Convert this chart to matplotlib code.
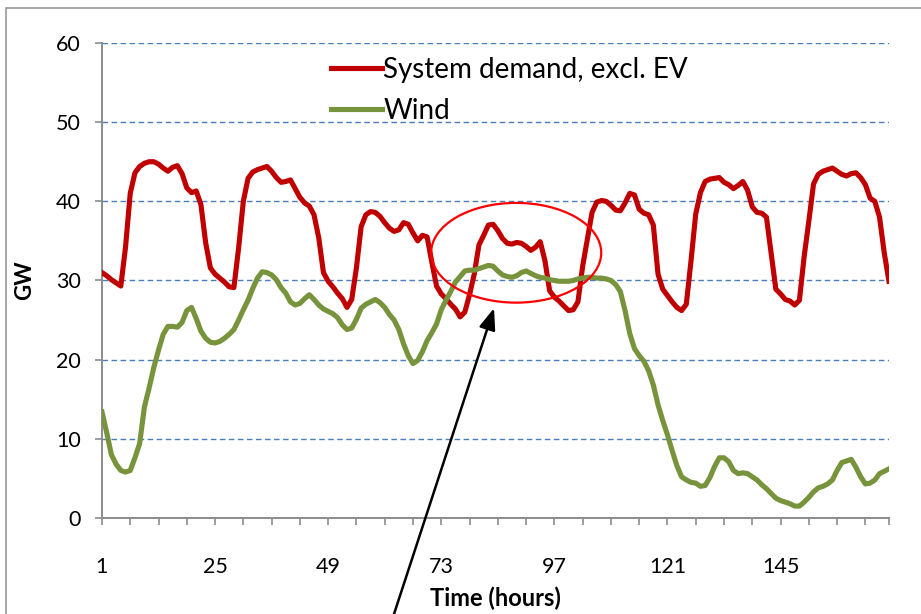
import numpy as np
import matplotlib
matplotlib.use("Agg")
import matplotlib.pyplot as plt
from matplotlib.patches import Ellipse, Rectangle

plt.rcParams["font.family"] = ["Lato", "DejaVu Sans"]

hours = np.arange(1, 169)

demand = [
    31.0, 30.6, 30.1, 29.7, 29.3, 34.2, 41.0, 43.6, 44.4, 44.8, 45.0, 45.0,
    44.7, 44.2, 43.8, 44.3, 44.5, 43.5, 41.7, 41.1, 41.3, 39.6, 34.8, 31.6,
    30.8, 30.3, 29.8, 29.2, 29.1, 34.1, 40.0, 42.9, 43.7, 44.0, 44.2, 44.4,
    43.8, 43.0, 42.4, 42.5, 42.7, 41.6, 40.5, 39.8, 39.4, 38.3, 35.4, 31.0,
    29.9, 29.2, 28.4, 27.7, 26.6, 27.6, 31.6, 36.8, 38.3, 38.7, 38.6, 38.1,
    37.3, 36.6, 36.2, 36.4, 37.3, 37.1, 36.0, 35.0, 35.7, 35.5, 32.3, 29.3,
    28.3, 27.7, 27.0, 26.4, 25.4, 26.0, 28.2, 30.8, 34.5, 35.7, 37.0, 37.1,
    36.3, 35.3, 34.7, 34.6, 34.8, 34.7, 34.3, 33.8, 34.2, 34.9, 32.5, 28.7,
    27.9, 27.4, 26.8, 26.2, 26.3, 27.3, 31.8, 35.2, 38.6, 39.9, 40.1, 40.0,
    39.5, 38.9, 38.8, 39.8, 41.0, 40.8, 39.0, 38.5, 38.3, 37.0, 30.8, 28.9,
    28.1, 27.3, 26.6, 26.2, 27.0, 32.5, 38.4, 41.1, 42.5, 42.8, 42.9, 43.0,
    42.4, 42.1, 41.6, 42.0, 42.5, 41.4, 39.3, 38.6, 38.5, 38.0, 33.5, 28.9,
    28.3, 27.6, 27.4, 26.9, 27.5, 33.0, 37.5, 42.2, 43.4, 43.8, 44.0, 44.2,
    43.8, 43.4, 43.2, 43.5, 43.6, 43.0, 42.1, 40.4, 40.0, 38.0, 33.5, 29.9,
]

wind = [
    13.4, 10.8, 8.0, 6.8, 6.0, 5.8, 6.0, 7.6, 9.4, 14.0, 16.4, 19.0,
    21.2, 23.2, 24.2, 24.2, 24.1, 24.7, 26.2, 26.6, 25.2, 23.6, 22.7, 22.2,
    22.1, 22.3, 22.7, 23.2, 23.8, 25.0, 26.3, 27.5, 29.0, 30.3, 31.1, 31.0,
    30.7, 30.1, 29.1, 28.4, 27.3, 26.9, 27.1, 27.7, 28.2, 27.6, 26.9, 26.4,
    26.1, 25.8, 25.3, 24.4, 23.8, 24.0, 25.1, 26.5, 27.0, 27.3, 27.6, 27.2,
    26.6, 25.7, 25.0, 23.8, 22.0, 20.5, 19.5, 19.9, 21.0, 22.4, 23.4, 24.5,
    26.3, 27.5, 28.6, 29.8, 30.5, 31.2, 31.3, 31.3, 31.5, 31.7, 31.9, 31.8,
    31.2, 30.7, 30.5, 30.4, 30.6, 31.0, 31.2, 30.9, 30.6, 30.4, 30.3, 30.1,
    30.0, 29.9, 29.9, 29.9, 30.0, 30.2, 30.3, 30.4, 30.4, 30.3, 30.3, 30.2,
    30.0, 29.5, 28.6, 26.2, 23.3, 21.4, 20.5, 19.8, 18.6, 16.8, 14.3, 12.3,
    10.5, 8.5, 6.6, 5.2, 4.8, 4.5, 4.4, 4.0, 4.1, 5.1, 6.5, 7.6,
    7.6, 7.1, 6.0, 5.6, 5.7, 5.6, 5.2, 4.8, 4.2, 3.7, 3.1, 2.5,
    2.2, 2.0, 1.8, 1.5, 1.5, 2.0, 2.6, 3.3, 3.8, 4.0, 4.3, 4.8,
    6.0, 7.0, 7.2, 7.4, 6.4, 5.2, 4.3, 4.4, 4.8, 5.6, 5.9, 6.2,
]

label_hours = [1, 25, 49, 73, 97, 121, 145]

fig = plt.figure(figsize=(9.21, 6.14), dpi=100)
ax = fig.add_axes([0.1107, 0.1564, 0.8545, 0.7736])

# outer chart frame (cut off at right and bottom in the source)
fig.patches.append(Rectangle((6 / 921, -0.05), 1.1, (614 - 8) / 614 + 0.05,
                             transform=fig.transFigure, fill=False,
                             edgecolor="#9a9a9a", lw=1.2))

ax.plot(hours, demand, color="#C00000", lw=3.7, label="System demand, excl. EV",
        solid_joinstyle="round", zorder=3)
ax.plot(hours, wind, color="#77933C", lw=3.7, label="Wind",
        solid_joinstyle="round", zorder=3)

ax.set_xlim(1, 168)
ax.set_ylim(0, 60)
ax.set_yticks(range(0, 61, 10))
ax.yaxis.grid(True, color="#4A7EBB", ls=(0, (4, 2.5)), lw=1.0)
ax.set_axisbelow(True)

ticks = list(range(1, 169, 6)) + [168]
ax.set_xticks(ticks)
ax.set_xticklabels([str(t) if t in label_hours else "" for t in ticks])
ax.tick_params(axis="x", direction="out", length=5, width=1.2, color="#8c8c8c",
               pad=23, labelsize=15.5)
ax.tick_params(axis="y", direction="out", length=5, width=1.2, color="#8c8c8c",
               pad=10, labelsize=15.5)

for s in ["top", "right"]:
    ax.spines[s].set_visible(False)
for s in ["left", "bottom"]:
    ax.spines[s].set_color("#8c8c8c")
    ax.spines[s].set_linewidth(1.4)

ax.set_ylabel("GW", fontsize=16, fontweight="bold", labelpad=15)
ax.set_xlabel("Time (hours)", fontsize=17, fontweight="bold", labelpad=7)

leg = ax.legend(loc="upper left", bbox_to_anchor=(0.273, 1.0), frameon=False,
                fontsize=20, handlelength=1.85, handletextpad=0.05,
                labelspacing=0.55, borderaxespad=0.1)

ax.add_patch(Ellipse((88.9, 33.5), 36.1, 12.6, fill=False, edgecolor="#FF0000",
                     lw=1.6, zorder=4))

ax.annotate("", xy=(84.2, 26.5), xycoords="data",
            xytext=(390 / 921, -0.02), textcoords="figure fraction",
            arrowprops=dict(arrowstyle="-|>,head_length=1.3,head_width=0.5",
                            color="black", lw=1.8, shrinkA=0, shrinkB=0),
            annotation_clip=False, zorder=5)

fig.savefig("out.png", dpi=100)
